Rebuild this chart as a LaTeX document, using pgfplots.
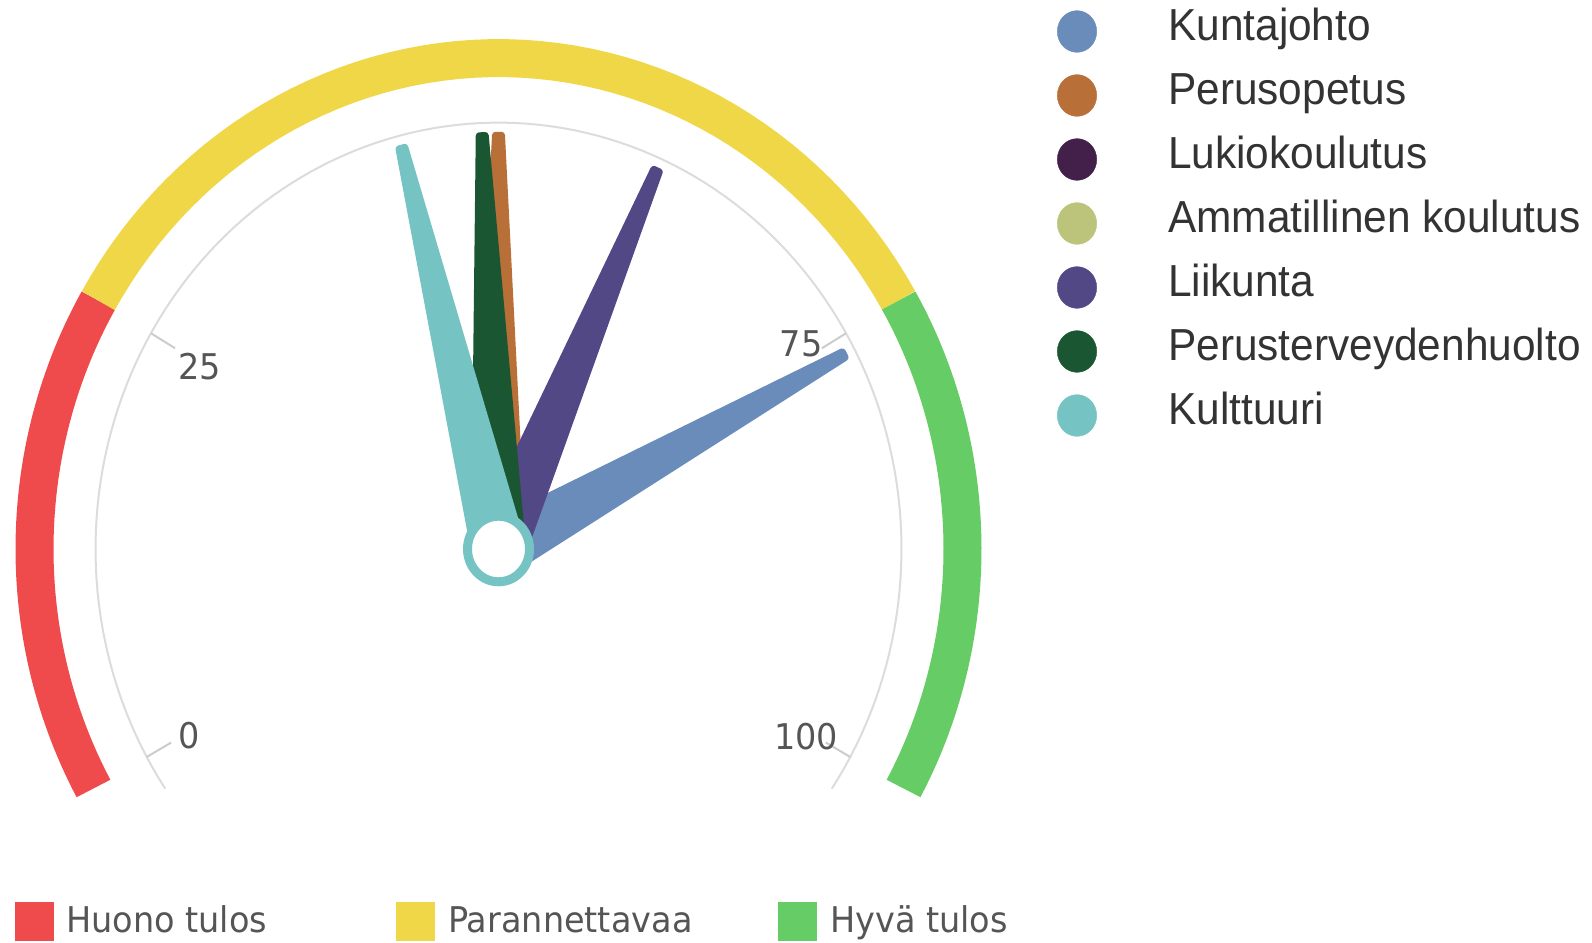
\documentclass[border=0pt]{standalone}
\usepackage{pgfplots}
\pgfplotsset{compat=1.18}
\usepackage{pgfplotstable}
\usepackage{fontspec}
\setmainfont{Liberation Sans}
\newfontfamily\lucida{DejaVu Sans}

\definecolor{cKunta}{HTML}{6A8CBA}
\definecolor{cPeruso}{HTML}{B96F38}
\definecolor{cLukio}{HTML}{432049}
\definecolor{cAmmat}{HTML}{BCC47C}
\definecolor{cLiik}{HTML}{524886}
\definecolor{cPterv}{HTML}{1A5632}
\definecolor{cKult}{HTML}{75C4C3}
\definecolor{bandRed}{HTML}{F04B4C}
\definecolor{bandYellow}{HTML}{EFD747}
\definecolor{bandGreen}{HTML}{66CC66}
\definecolor{arcGray}{HTML}{DCDCDC}
\definecolor{tickGray}{HTML}{CCCCCC}
\definecolor{labGray}{HTML}{555555}
\definecolor{legText}{HTML}{333333}

% gauge geometry (picture units = pixels)
\newcommand\cx{498.5}
\newcommand\cy{393}
\newcommand\kk{1.058}
% value v sits at angle 209.2 - 2.384 v (degrees)

% needle outline: a = along the needle, c = across it
\pgfplotstableread{
a c
0 -24
391 -3
391 3
0 24
0 -24
}\needleshape

\pgfplotstableread{
r c
375 0
403 0
}\tickshape

\newcommand{\needle}[2]{%
  \addplot[draw=#2, fill=#2, line width=7pt, line join=round]
    table[x expr={\cx+\thisrow{a}*cos(209.2-2.384*#1)-\thisrow{c}*sin(209.2-2.384*#1)},
          y expr={\cy+\kk*(\thisrow{a}*sin(209.2-2.384*#1)+\thisrow{c}*cos(209.2-2.384*#1))}]
    {\needleshape};}

\newcommand{\band}[3]{%
  \addplot[draw=#3, line width=38pt, domain=#1:#2, samples=60, variable=\vv]
    ({\cx+464*cos(209.2-2.384*\vv)}, {\cy+\kk*464*sin(209.2-2.384*\vv)});}

\newcommand{\gtick}[1]{%
  \addplot[draw=tickGray, line width=2pt]
    table[x expr={\cx+\thisrow{r}*cos(209.2-2.384*#1)},
          y expr={\cy+\kk*\thisrow{r}*sin(209.2-2.384*#1)}] {\tickshape};}

\newcommand{\legtext}[1]{\fontsize{42.4pt}{50pt}\selectfont\color{legText}\scalebox{1}[1.058]{#1}}
\newcommand{\bottext}[1]{\lucida\fontsize{33.5pt}{40pt}\selectfont\color{labGray}\scalebox{1}[1.058]{#1}}
\newcommand{\ticktext}[1]{\lucida\fontsize{33.5pt}{40pt}\selectfont\color{labGray}\scalebox{1}[1.058]{#1}}

\begin{document}
\begin{tikzpicture}
\begin{axis}[
  x=1pt, y=1pt,
  xmin=0, xmax=1592, ymin=0, ymax=942,
  hide axis, clip=false,
  anchor=origin, at={(0,0)},
]
\path (axis cs:0,0) rectangle (axis cs:1592,942);

% plot bands
\band{0}{25}{bandRed}
\band{25}{75}{bandYellow}
\band{75}{100}{bandGreen}

% axis arc
\addplot[draw=arcGray, line width=2pt, domain=-34.2:214.2, samples=150, variable=\aa]
  ({\cx+403*cos(\aa)}, {\cy+\kk*403*sin(\aa)});

% ticks
\gtick{0}
\gtick{25}
\gtick{75}
\gtick{100}

\node[inner sep=0pt, anchor=center] at (axis cs:189.5,206) {\ticktext{0}};
\node[inner sep=0pt, anchor=center] at (axis cs:200,575) {\ticktext{25}};
\node[inner sep=0pt, anchor=center] at (axis cs:801,598) {\ticktext{75}};
\node[inner sep=0pt, anchor=center] at (axis cs:806,205) {\ticktext{100}};

% needles (series order)
\needle{76}{cKunta}
\needle{50}{cPeruso}
\needle{60}{cLiik}
\needle{49}{cPterv}
\needle{44}{cKult}

% pivot
\addplot[only marks, mark=*, mark size=31pt,
  mark options={draw=cKult, fill=white, line width=9pt, yscale=1.058}]
  coordinates {(498.5,393)};

% right legend
\addplot[only marks, mark=*, mark size=19.7pt, color=cKunta, mark options={yscale=1.058}] coordinates {(1077,910.5)};
\addplot[only marks, mark=*, mark size=19.7pt, color=cPeruso, mark options={yscale=1.058}] coordinates {(1077,846.5)};
\addplot[only marks, mark=*, mark size=19.7pt, color=cLukio, mark options={yscale=1.058}] coordinates {(1077,782.5)};
\addplot[only marks, mark=*, mark size=19.7pt, color=cAmmat, mark options={yscale=1.058}] coordinates {(1077,718.5)};
\addplot[only marks, mark=*, mark size=19.7pt, color=cLiik, mark options={yscale=1.058}] coordinates {(1077,654.5)};
\addplot[only marks, mark=*, mark size=19.7pt, color=cPterv, mark options={yscale=1.058}] coordinates {(1077,590.5)};
\addplot[only marks, mark=*, mark size=19.7pt, color=cKult, mark options={yscale=1.058}] coordinates {(1077,526.5)};

\node[inner sep=0pt, anchor=base west] at (axis cs:1168,901.4) {\legtext{Kuntajohto}};
\node[inner sep=0pt, anchor=base west] at (axis cs:1168,837.4) {\legtext{Perusopetus}};
\node[inner sep=0pt, anchor=base west] at (axis cs:1168,773.4) {\legtext{Lukiokoulutus}};
\node[inner sep=0pt, anchor=base west] at (axis cs:1168,709.4) {\legtext{Ammatillinen koulutus}};
\node[inner sep=0pt, anchor=base west] at (axis cs:1168,645.4) {\legtext{Liikunta}};
\node[inner sep=0pt, anchor=base west] at (axis cs:1168,581.4) {\legtext{Perusterveydenhuolto}};
\node[inner sep=0pt, anchor=base west] at (axis cs:1168,517.4) {\legtext{Kulttuuri}};

% bottom legend (plot bands)
\addplot[only marks, mark=square*, mark size=19pt, color=bandRed] coordinates {(34,21)};
\addplot[only marks, mark=square*, mark size=19pt, color=bandYellow] coordinates {(415.5,21)};
\addplot[only marks, mark=square*, mark size=19pt, color=bandGreen] coordinates {(797,21)};
\node[inner sep=0pt, anchor=base west] at (axis cs:66,10) {\bottext{Huono tulos}};
\node[inner sep=0pt, anchor=base west] at (axis cs:448,10) {\bottext{Parannettavaa}};
\node[inner sep=0pt, anchor=base west] at (axis cs:830,10) {\bottext{Hyvä tulos}};
\end{axis}
\end{tikzpicture}
\end{document}
